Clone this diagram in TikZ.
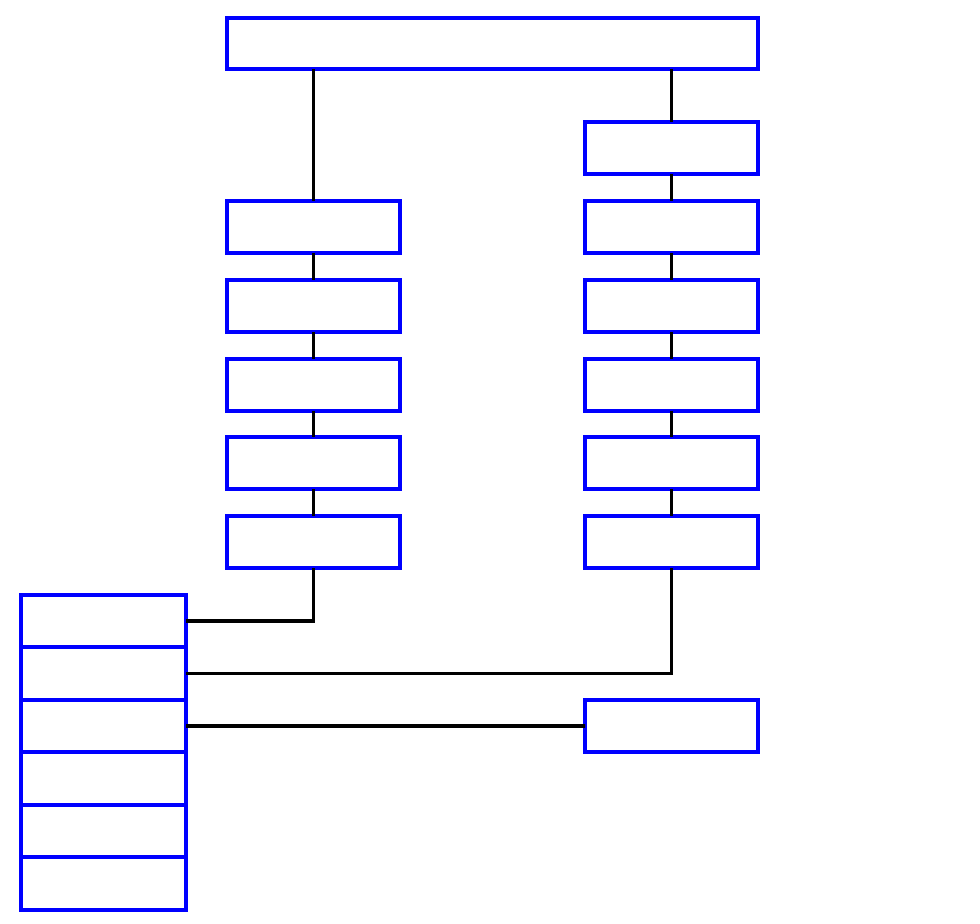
\documentclass[tikz,border=0pt]{standalone}
\usepackage{xcolor}
\usepackage{tikz}
\usetikzlibrary{positioning, calc}
\definecolor{boxBlue}{RGB}{0, 0, 255}

\begin{document}
\begin{tikzpicture}[
    box/.style={draw=boxBlue, line width=2.2pt, minimum width=3.46cm, minimum height=1.04cm, inner sep=0pt, outer sep=0pt},
    cell/.style={draw=boxBlue, line width=2.2pt, minimum width=3.3cm, minimum height=1.05cm, inner sep=0pt, outer sep=0pt},
    link/.style={draw=black, line width=2.2pt}
]
\useasboundingbox (0, 0) rectangle (19.6, -18.48);

% Top box
\node[box, minimum width=10.62cm, minimum height=1.02cm] (top) at (9.85, -0.87) {};

% Left column
\node[box] (left1) at (6.27, -4.54) {};
\node[box] (left2) at (6.27, -6.12) {};
\node[box] (left3) at (6.27, -7.70) {};
\node[box] (left4) at (6.27, -9.26) {};
\node[box] (left5) at (6.27, -10.84) {};

% Right column
\node[box] (right1) at (13.43, -2.96) {};
\node[box] (right2) at (13.43, -4.54) {};
\node[box] (right3) at (13.43, -6.12) {};
\node[box] (right4) at (13.43, -7.70) {};
\node[box] (right5) at (13.43, -9.26) {};
\node[box] (right6) at (13.43, -10.84) {};

% Lone box
\node[box] (lone) at (13.43, -14.52) {};

% Stack
\node[cell] (cell1) at (2.07, -12.42) {};
\node[cell, below=0pt of cell1] (cell2) {};
\node[cell, below=0pt of cell2] (cell3) {};
\node[cell, below=0pt of cell3] (cell4) {};
\node[cell, below=0pt of cell4] (cell5) {};
\node[cell, below=0pt of cell5] (cell6) {};

% Links
\draw[link] (top.south -| left1.north) -- (left1.north);
\draw[link] (top.south -| right1.north) -- (right1.north);
\draw[link] (left1) -- (left2);
\draw[link] (left2) -- (left3);
\draw[link] (left3) -- (left4);
\draw[link] (left4) -- (left5);
\draw[link] (right1) -- (right2);
\draw[link] (right2) -- (right3);
\draw[link] (right3) -- (right4);
\draw[link] (right4) -- (right5);
\draw[link] (right5) -- (right6);
\draw[link] (left5.south) |- (cell1.east);
\draw[link] (right6.south) |- (cell2.east);
\draw[link] (cell3.east) -- (lone.west);

\end{tikzpicture}
\end{document}
